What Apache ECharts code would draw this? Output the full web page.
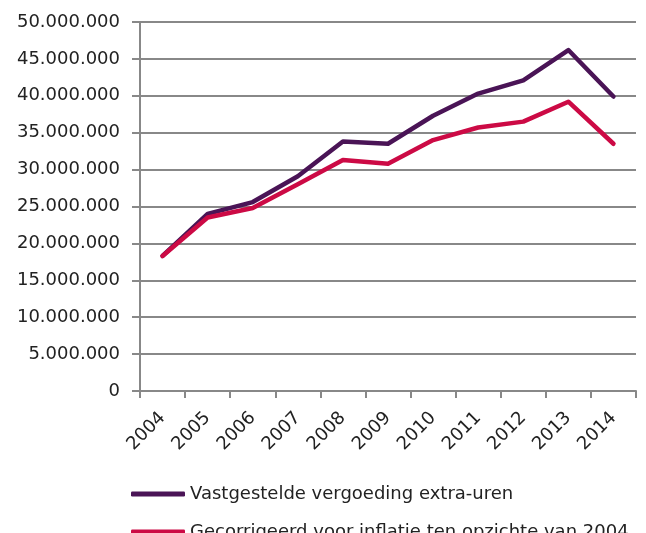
<!DOCTYPE html>
<html>
<head>
<meta charset="utf-8">
<script src="https://cdn.jsdelivr.net/npm/echarts@6/dist/echarts.min.js"></script>
<style>
    html, body { margin: 0; padding: 0; background: #fff; }
    #chart { width: 646px; height: 533px; }
</style>
</head>
<body>
<div id="chart"></div>
<script>
// jaren
const years = ['2004', '2005', '2006', '2007', '2008', '2009', '2010', '2011', '2012', '2013', '2014']
// vastgestelde vergoeding extra-uren
const vastgesteld = [18300000, 24000000, 25600000, 29100000, 33800000, 33500000, 37300000, 40300000, 42100000, 46200000, 39900000]
// gecorrigeerd voor inflatie t.o.v. 2004
const gecorrigeerd = [18300000, 23500000, 24800000, 28000000, 31300000, 30800000, 34000000, 35700000, 36500000, 39200000, 33500000]
const seriesNames = ['Vastgestelde vergoeding extra-uren', 'Gecorrigeerd voor inflatie ten opzichte van 2004']

const chart = echarts.init(document.getElementById('chart'))

// 50.000.000 notatie
function fmt(v) {
    return String(v).replace(/\B(?=(\d{3})+(?!\d))/g, '.')
}

const font = 'DejaVu Sans, Verdana, sans-serif'

// één legenda per regel, onder elkaar
const legendBase = {
    left: 131,
    itemWidth: 54,
    itemHeight: 5,
    icon: 'roundRect',
    padding: 0,
    textStyle: {
        fontFamily: font,
        fontSize: 18,
        color: '#222'
    }
}

const option = {
    animation: false,
    color: ['#4a1456', '#cc0a45'],
    grid: {
        left: 140,
        top: 22,
        right: 10,
        bottom: 142,
        containLabel: false
    },
    legend: [
        Object.assign({}, legendBase, { top: 485, data: [seriesNames[0]] }),
        Object.assign({}, legendBase, { top: 523, data: [seriesNames[1]] })
    ],
    xAxis: {
        type: 'category',
        data: years,
        boundaryGap: true,
        axisLine: { lineStyle: { color: '#888', width: 2 } },
        axisTick: { show: true, length: 7, lineStyle: { color: '#888', width: 2 } },
        axisLabel: {
            rotate: 45,
            margin: 24,
            fontFamily: font,
            fontSize: 18,
            color: '#222'
        }
    },
    yAxis: {
        type: 'value',
        min: 0,
        max: 50000000,
        interval: 5000000,
        axisLine: { show: true, lineStyle: { color: '#888', width: 2 } },
        axisTick: { show: true, length: 8, lineStyle: { color: '#888', width: 2 } },
        splitLine: { lineStyle: { color: '#888', width: 2 } },
        axisLabel: {
            margin: 20,
            fontFamily: font,
            fontSize: 18,
            color: '#222',
            formatter: fmt
        }
    },
    series: [
        {
            type: 'line',
            name: seriesNames[0],
            data: vastgesteld,
            symbol: 'none',
            lineStyle: { width: 4.5, cap: 'round', join: 'round' },
            z: 2
        },
        {
            type: 'line',
            name: seriesNames[1],
            data: gecorrigeerd,
            symbol: 'none',
            lineStyle: { width: 4.5, cap: 'round', join: 'round' },
            z: 3
        }
    ]
}

chart.setOption(option)
</script>
</body>
</html>
